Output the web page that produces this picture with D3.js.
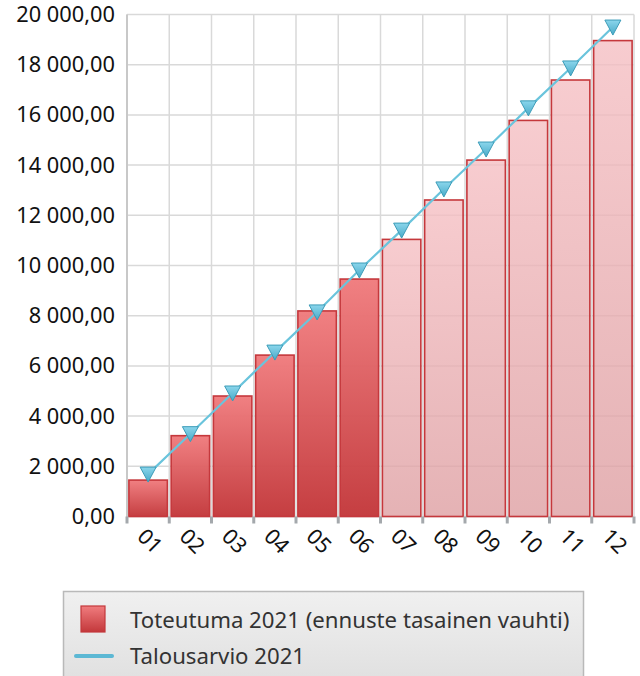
<!DOCTYPE html>
<html><head><meta charset="utf-8">
<script src="https://cdn.jsdelivr.net/npm/d3@7"></script>
<style>body{margin:0;background:#fff;} svg{display:block;}</style>
</head><body>
<script>
const months = ["01","02","03","04","05","06","07","08","09","10","11","12"];
const actual = [1450, 3220, 4800, 6430, 8190, 9460, 11040, 12610, 14200, 15780, 17390, 18960];
const isForecast = [false,false,false,false,false,false,true,true,true,true,true,true];
const budget = [1690, 3300, 4920, 6550, 8150, 9820, 11410, 13050, 14640, 16280, 17870, 19500];
const yTicks = [0,2000,4000,6000,8000,10000,12000,14000,16000,18000,20000];
const legendLabels = ["Toteutuma 2021 (ennuste tasainen vauhti)", "Talousarvio 2021"];

const W = 640, H = 676;
const m = {left:127, top:14.5, right:634, bottom:516.5};
const font = "'Noto Sans', 'Open Sans', sans-serif";

const svg = d3.select("body").append("svg").attr("width", W).attr("height", H);
const defs = svg.append("defs");
function lg(id, c1, c2, o1, o2){
  const g = defs.append("linearGradient").attr("id", id).attr("x1",0).attr("y1",0).attr("x2",0).attr("y2",1);
  g.append("stop").attr("offset","0%").attr("stop-color",c1).attr("stop-opacity",o1==null?1:o1);
  g.append("stop").attr("offset","100%").attr("stop-color",c2).attr("stop-opacity",o2==null?1:o2);
}
lg("gAct", "#f07c7e", "#c3383b", 0.97, 0.97);
lg("gFc", "#f5bfc3", "#de9fa2", 0.8, 0.8);
lg("gTri", "#8bd6ec", "#48aac8");
lg("gLeg", "#f0f0f0", "#e0e0e0");
lg("gLegSw", "#f07c7e", "#c3383b");

const x = d3.scaleBand().domain(months).range([m.left, m.right]).paddingInner(0.09).paddingOuter(0.045);
const xb = d3.scaleBand().domain(months).range([m.left, m.right]);
const y = d3.scaleLinear().domain([0,20000]).range([m.bottom, m.top]);

// grid
const grid = svg.append("g");
grid.selectAll("line.h").data(yTicks).join("line")
  .attr("x1", m.left).attr("x2", m.right).attr("y1", d=>y(d)).attr("y2", d=>y(d))
  .attr("stroke", "#d9d9d9").attr("stroke-width", 1.5);
const bounds = months.map(d=>xb(d)).concat([m.right]);
grid.selectAll("line.v").data(bounds).join("line")
  .attr("x1", d=>d).attr("x2", d=>d).attr("y1", m.top).attr("y2", m.bottom)
  .attr("stroke", "#d9d9d9").attr("stroke-width", 1.5);
// left axis line
svg.append("line").attr("x1", m.left).attr("x2", m.left).attr("y1", m.top).attr("y2", m.bottom+1)
  .attr("stroke", "#c8c8c8").attr("stroke-width", 2);

// bars
svg.append("g").selectAll("rect").data(months).join("rect")
  .attr("x", d=>x(d)).attr("width", x.bandwidth())
  .attr("y", (d,i)=>y(actual[i])).attr("height", (d,i)=>y(0)-y(actual[i]))
  .attr("fill", (d,i)=>isForecast[i] ? "url(#gFc)" : "url(#gAct)")
  .attr("stroke", "#c5383c").attr("stroke-width", 1.6);

// x ticks
svg.append("g").selectAll("line").data(bounds).join("line")
  .attr("x1", d=>d).attr("x2", d=>d).attr("y1", m.bottom).attr("y2", m.bottom+7)
  .attr("stroke", "#a4a8ac").attr("stroke-width", 3);

// y labels
const yAxis = d3.axisLeft(y).tickValues(yTicks).tickSize(0).tickPadding(12)
  .tickFormat(d => d3.format(",.2f")(d).replace(/,/g," ").replace(".", ","));
const ya = svg.append("g").attr("transform", `translate(${m.left},0)`).call(yAxis);
ya.select(".domain").remove();
ya.selectAll("text").attr("font-family", font).attr("font-size", 21.8).attr("fill", "#111");

// x labels
svg.append("g").selectAll("text").data(months).join("text")
  .attr("transform", d=>`translate(${xb(d)+xb.bandwidth()/2+2},${541}) rotate(45)`)
  .attr("text-anchor", "middle").attr("dy", "0.35em")
  .attr("font-family", font).attr("font-size", 21.5).attr("fill", "#111")
  .text(d=>d);

// line
const cx = d => xb(d)+xb.bandwidth()/2;
svg.append("path").datum(months)
  .attr("d", d3.line().x(d=>cx(d)).y((d,i)=>y(budget[i])))
  .attr("fill","none").attr("stroke","#6ac4dc").attr("stroke-width",2.2);
svg.append("g").selectAll("path").data(months).join("path")
  .attr("transform", (d,i)=>`translate(${cx(d)},${y(budget[i])})`)
  .attr("d", "M-8,-7 L8,-7 L0,8 Z")
  .attr("fill","url(#gTri)").attr("stroke","#3c9cb8").attr("stroke-width",1);

// legend
const L = svg.append("g");
L.append("rect").attr("x", 63.5).attr("y", 591.5).attr("width", 520).attr("height", 90)
  .attr("fill","url(#gLeg)").attr("stroke","#b9b9b9").attr("stroke-width",1.5);
L.append("rect").attr("x", 81).attr("y", 606).attr("width", 24).attr("height", 26)
  .attr("fill","url(#gLegSw)").attr("stroke","#c3383b").attr("stroke-width",1.2);
L.append("line").attr("x1", 76).attr("x2", 112).attr("y1", 656).attr("y2", 656)
  .attr("stroke","#5cb8d4").attr("stroke-width",4).attr("stroke-linecap","round");
L.selectAll("text").data(legendLabels).join("text")
  .attr("x", 130).attr("y", (d,i)=> 620 + i*36).attr("dy","0.35em")
  .attr("font-family", font).attr("font-size", 22.2).attr("fill", "#333")
  .text(d=>d);
</script>
</body></html>
